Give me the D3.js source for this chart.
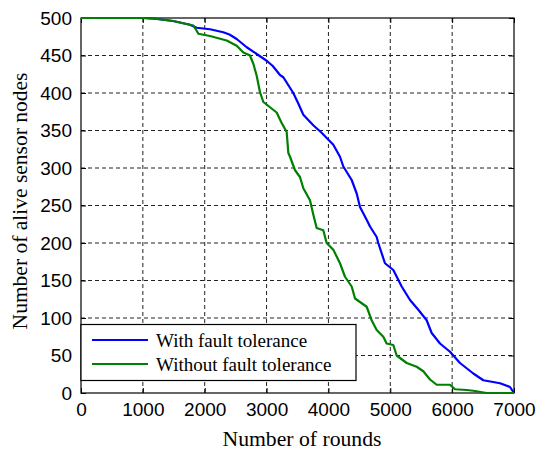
<!DOCTYPE html>
<html>
<head>
<meta charset="utf-8">
<script src="https://cdn.jsdelivr.net/npm/d3@7"></script>
<style>
  html, body { margin: 0; padding: 0; background: #fff; }
  svg { display: block; }
</style>
</head>
<body>
<svg id="chart" width="537" height="452"></svg>
<script>
// Alive nodes over time, [round, alive nodes]
const withFaultTolerance = [
  [0,500],[1000,500],[1200,499],[1490,496],[1760,491],[1870,487],[2085,485],[2300,481],
  [2400,478],[2517,472],[2679,461],[2840,452],[3002,443],[3100,436],[3217,424],[3271,421],
  [3432,400],[3513,386],[3594,371],[3755,357],[3890,347],[3972,340],[4079,331],[4187,315],
  [4241,302],[4376,284],[4457,266],[4510,248],[4618,231],[4672,222],[4780,208],[4806,200],
  [4914,173],[5049,164],[5184,142],[5319,124],[5453,111],[5588,97],[5669,80],[5804,66],
  [5965,55],[6127,40],[6342,26],[6504,17],[6774,13],[6935,8],[7000,0]
];
const withoutFaultTolerance = [
  [0,500],[1000,500],[1200,499],[1490,496],[1760,491],[1816,490],[1870,483],[1897,479],
  [2085,476],[2355,470],[2517,463],[2625,454],[2732,450],[2786,439],[2840,423],[2894,401],
  [2948,388],[3163,374],[3244,360],[3325,348],[3352,320],[3379,315],[3460,297],[3540,288],
  [3594,273],[3702,257],[3755,238],[3810,220],[3917,217],[3971,200],[4079,191],[4187,173],
  [4268,155],[4376,142],[4430,126],[4618,115],[4699,97],[4780,84],[4887,75],[4941,66],
  [5049,64],[5103,50],[5265,40],[5426,35],[5534,29],[5642,18],[5750,11],[5965,11],
  [6046,5],[6235,4],[6342,3],[6558,0],[7000,0]
];
const seriesNames = ["With fault tolerance", "Without fault tolerance"];
const seriesColors = ["#0000ff", "#008000"];
const xTicks = [0, 1000, 2000, 3000, 4000, 5000, 6000, 7000];
const yTicks = [0, 50, 100, 150, 200, 250, 300, 350, 400, 450, 500];

const svg = d3.select("#chart");
const plot = { left: 81, top: 18, right: 514, bottom: 393 };

const x = d3.scaleLinear().domain([0, 7000]).range([plot.left, plot.right]);
const y = d3.scaleLinear().domain([0, 500]).range([plot.bottom, plot.top]);

const sans = "'Liberation Sans', Arial, sans-serif";
const serif = "'Liberation Serif', 'Times New Roman', serif";

// dashed grid
const grid = svg.append("g");
grid.selectAll("line.vx").data(xTicks.slice(1, -1)).join("line")
  .attr("x1", d => x(d)).attr("x2", d => x(d))
  .attr("y1", plot.top).attr("y2", plot.bottom)
  .attr("stroke", "#222").attr("stroke-width", 1).attr("stroke-dasharray", "4,3");
grid.selectAll("line.hy").data(yTicks.slice(1, -1)).join("line")
  .attr("x1", plot.left).attr("x2", plot.right)
  .attr("y1", d => y(d)).attr("y2", d => y(d))
  .attr("stroke", "#222").attr("stroke-width", 1).attr("stroke-dasharray", "4,3");

// axes with inward ticks
const xAxis = svg.append("g").attr("transform", `translate(0,${plot.bottom})`)
  .call(d3.axisBottom(x).tickValues(xTicks).tickSize(-5).tickPadding(10).tickFormat(d3.format("d")));
const yAxis = svg.append("g").attr("transform", `translate(${plot.left},0)`)
  .call(d3.axisLeft(y).tickValues(yTicks).tickSize(-5).tickPadding(9).tickFormat(d3.format("d")));
svg.append("g").attr("transform", `translate(0,${plot.top})`)
  .call(d3.axisTop(x).tickValues(xTicks).tickSize(-5).tickFormat(""));
svg.append("g").attr("transform", `translate(${plot.right},0)`)
  .call(d3.axisRight(y).tickValues(yTicks).tickSize(-5).tickFormat(""));

svg.selectAll(".domain").remove();
svg.selectAll(".tick line").attr("stroke", "#000");
[xAxis, yAxis].forEach(a => a.selectAll("text")
  .attr("font-family", sans).attr("font-size", 19).attr("fill", "#000"));

// frame
svg.append("rect")
  .attr("x", plot.left).attr("y", plot.top)
  .attr("width", plot.right - plot.left).attr("height", plot.bottom - plot.top)
  .attr("fill", "none").attr("stroke", "#000").attr("stroke-width", 1.2);

// series lines
const line = d3.line().x(d => x(d[0])).y(d => y(d[1]));
[withFaultTolerance, withoutFaultTolerance].forEach((s, i) => {
  svg.append("path").datum(s)
    .attr("d", line)
    .attr("fill", "none")
    .attr("stroke", seriesColors[i])
    .attr("stroke-width", 2.2)
    .attr("stroke-linejoin", "round");
});

// axis titles
svg.append("text")
  .attr("x", 302).attr("y", 446)
  .attr("text-anchor", "middle")
  .attr("font-family", serif).attr("font-size", 21.7)
  .text("Number of rounds");
svg.append("text")
  .attr("transform", `translate(27,201) rotate(-90)`)
  .attr("text-anchor", "middle")
  .attr("font-family", serif).attr("font-size", 21.5)
  .text("Number of alive sensor nodes");

// legend
const legend = svg.append("g");
legend.append("rect")
  .attr("x", plot.left).attr("y", 324.5)
  .attr("width", 275).attr("height", 56)
  .attr("fill", "#fff").attr("stroke", "#000").attr("stroke-width", 1.2);
seriesNames.forEach((name, i) => {
  const ly = 340 + i * 24;
  legend.append("line")
    .attr("x1", 92).attr("x2", 148).attr("y1", ly).attr("y2", ly)
    .attr("stroke", seriesColors[i]).attr("stroke-width", 2.2);
  legend.append("text")
    .attr("x", 156).attr("y", ly + 6.5)
    .attr("font-family", serif).attr("font-size", 19)
    .text(name);
});
</script>
</body>
</html>
